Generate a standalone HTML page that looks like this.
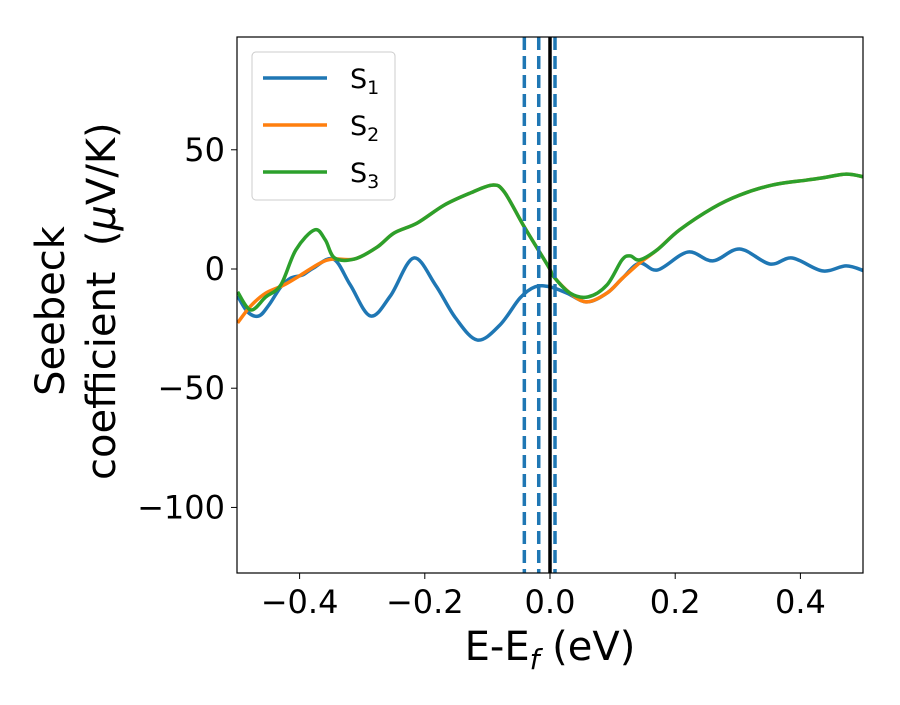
<!DOCTYPE html>
<html><head><meta charset="utf-8"><style>
body{margin:0;background:#fff}
svg text{font-family:"DejaVu Sans","Liberation Sans",sans-serif;fill:#000}
</style></head><body>
<svg id="chart" width="900" height="700">
<defs><clipPath id="clip"><rect x="237" y="37" width="626" height="536"/></clipPath></defs>
<rect x="0" y="0" width="900" height="700" fill="#fff"/>
<g id="series" clip-path="url(#clip)"></g>
<rect x="237" y="37" width="626" height="536" fill="none" stroke="#000" stroke-width="1.2"/>
<g id="xticks"></g>
<g id="yticks"></g>
<text x="550" y="660" font-size="40" text-anchor="middle">E-E<tspan font-style="italic" font-size="28" dy="9">f</tspan><tspan dy="-9"> (eV)</tspan></text>
<text transform="translate(64,311) rotate(-90)" font-size="40" text-anchor="middle">Seebeck</text>
<text transform="translate(115,480) rotate(-90)" font-size="40" text-anchor="start" xml:space="preserve">coefficient  (<tspan font-style="italic">μ</tspan>V/K)</text>
<g>
<rect x="252" y="52" width="143" height="148" rx="4" fill="#fff" fill-opacity="0.8" stroke="#ccc" stroke-width="1"/>
<g><line x1="263" y1="78" x2="327" y2="78" stroke="#1f77b4" stroke-width="3.5"/><text x="350" y="88" font-size="27">S<tspan font-size="19" dy="6">1</tspan></text></g>
<g><line x1="263" y1="125" x2="327" y2="125" stroke="#ff7f0e" stroke-width="3.5"/><text x="350" y="135" font-size="27">S<tspan font-size="19" dy="6">2</tspan></text></g>
<g><line x1="263" y1="172" x2="327" y2="172" stroke="#2ca02c" stroke-width="3.5"/><text x="350" y="182" font-size="27">S<tspan font-size="19" dy="6">3</tspan></text></g>
</g>
</svg>
<script>
const s1X=[-0.499,-0.483,-0.465,-0.449,-0.430,-0.414,-0.395,-0.378,-0.346,-0.319,-0.287,-0.255,-0.218,-0.183,-0.151,-0.116,-0.080,-0.048,-0.024,0,0.027,0.059,0.091,0.116,0.143,0.172,0.220,0.260,0.303,0.351,0.387,0.435,0.473,0.502];
const s1Y=[-11.3,-18,-19.7,-15.1,-7.5,-3.8,-2.5,0.4,4.2,-6.7,-19.7,-11.3,4.6,-6.7,-20.5,-29.8,-23.5,-12.2,-7.5,-7.5,-10.1,-13.8,-10.1,-3.8,2.5,-0.4,7.1,3.4,8.4,2.1,4.6,-0.8,1.3,-0.8];
const s2X=[-0.499,-0.478,-0.454,-0.425,-0.398,-0.367,-0.346,-0.312,-0.276,-0.249,-0.212,-0.169,-0.127,-0.092,-0.073,-0.041,-0.002,0.005,0.032,0.059,0.091,0.116,0.143,0.171,0.207,0.260,0.303,0.355,0.410,0.435,0.473,0.502];
const s2Y=[-22.6,-15.5,-10.1,-6.7,-2.5,2.5,4.2,4.2,9.2,15.1,19.3,26.8,31.9,35.2,32.3,17.6,0.8,-2.9,-10.1,-13.8,-10.1,-3.8,2.5,8.0,16.4,25.6,31.0,35.2,37.3,38.2,39.8,38.6];
const s3X=[-0.499,-0.478,-0.454,-0.430,-0.406,-0.376,-0.359,-0.344,-0.312,-0.276,-0.249,-0.212,-0.169,-0.127,-0.092,-0.073,-0.041,-0.002,0.005,0.032,0.061,0.091,0.115,0.128,0.143,0.171,0.207,0.260,0.303,0.355,0.410,0.435,0.473,0.502];
const s3Y=[-9.6,-17.2,-11.7,-6.7,8.0,16.4,12.2,4.6,4.2,9.2,15.1,19.3,26.8,31.9,35.2,32.3,17.6,0.8,-2.9,-10.1,-11.7,-6.7,3.8,5.5,3.8,8.0,16.4,25.6,31.0,35.2,37.3,38.2,39.8,38.6];
const dashedX=[-0.041,-0.018,0.008];
const fermiX=[0];
const xTicks=[-0.4,-0.2,0.0,0.2,0.4];
const xTickLabels=["\u22120.4","\u22120.2","0.0","0.2","0.4"];
const yTicks=[50,0,-50,-100];
const yTickLabels=["50","0","\u221250","\u2212100"];

const NS="http://www.w3.org/2000/svg";
const X0=237,X1=863,Y0=37,Y1=573,xmin=-0.5,xmax=0.5,ymin=-127.5,ymax=97.3;
function sx(v){return X0+(v-xmin)/(xmax-xmin)*(X1-X0);}
function sy(v){return Y1-(v-ymin)/(ymax-ymin)*(Y1-Y0);}
function mk(t,a){const e=document.createElementNS(NS,t);for(const k in a)e.setAttribute(k,a[k]);return e;}
function smooth(xs,ys){
  const p=xs.map((x,i)=>[sx(x),sy(ys[i])]);
  let d="M"+p[0][0]+","+p[0][1];
  for(let i=0;i<p.length-1;i++){
    const a=p[Math.max(i-1,0)],b=p[i],c=p[i+1],e=p[Math.min(i+2,p.length-1)];
    const c1=[b[0]+(c[0]-a[0])/6,b[1]+(c[1]-a[1])/6],c2=[c[0]-(e[0]-b[0])/6,c[1]-(e[1]-b[1])/6];
    d+=" C"+c1+" "+c2+" "+c;
  }
  return d;
}
const g=document.getElementById("series");
[[s1X,s1Y,"#1f77b4","series-s1"],[s2X,s2Y,"#ff7f0e","series-s2"],[s3X,s3Y,"#2ca02c","series-s3"]].forEach(s=>{
  const p=mk("path",{d:smooth(s[0],s[1]),fill:"none",stroke:s[2],"stroke-width":3.5,"stroke-linejoin":"round"});
  
  
  g.appendChild(p);
});
dashedX.forEach(v=>{
  const l=mk("line",{x1:sx(v),x2:sx(v),y1:Y0,y2:Y1,stroke:"#1f77b4","stroke-width":3.5,"stroke-dasharray":"13,6"});
  
  
  g.appendChild(l);
});
fermiX.forEach(v=>{
  const l=mk("line",{x1:sx(v),x2:sx(v),y1:Y0,y2:Y1,stroke:"#000","stroke-width":3.5});
  
  
  g.appendChild(l);
});
const xg=document.getElementById("xticks");
xTicks.forEach((v,i)=>{
  const t=mk("line",{x1:sx(v),x2:sx(v),y1:Y1,y2:Y1+6,stroke:"#000","stroke-width":1});
  
  
  xg.appendChild(t);
  const tx=mk("text",{x:sx(v),y:Y1+40,"font-size":32,"text-anchor":"middle"});
  tx.textContent=xTickLabels[i];
  
  
  xg.appendChild(tx);
});
const yg=document.getElementById("yticks");
yTicks.forEach((v,i)=>{
  const t=mk("line",{x1:X0-6,x2:X0,y1:sy(v),y2:sy(v),stroke:"#000","stroke-width":1});
  
  
  yg.appendChild(t);
  const tx=mk("text",{x:X0-12,y:sy(v)+11,"font-size":32,"text-anchor":"end"});
  tx.textContent=yTickLabels[i];
  
  
  yg.appendChild(tx);
});
</script>
</body></html>
